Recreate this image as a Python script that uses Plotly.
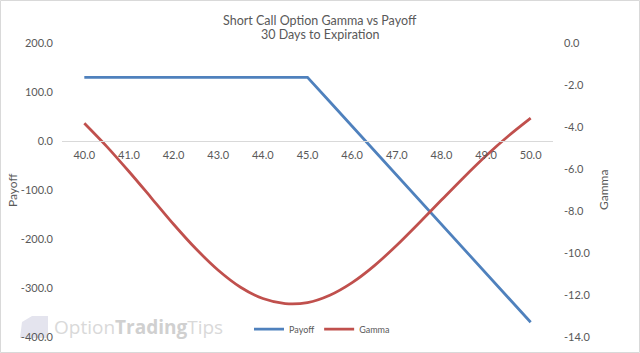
import plotly.graph_objects as go

# Data
price = [40.0, 40.5, 41.0, 41.5, 42.0, 42.5, 43.0, 43.5, 44.0, 44.5, 45.0,
         45.5, 46.0, 46.5, 47.0, 47.5, 48.0, 48.5, 49.0, 49.5, 50.0]
payoff = [130, 130, 130, 130, 130, 130, 130, 130, 130, 130, 130,
          80, 30, -20, -70, -120, -170, -220, -270, -320, -370]
gamma = [-3.82, -4.92, -6.12, -7.37, -8.63, -9.80, -10.82, -11.63, -12.17, -12.41, -12.36,
         -12.01, -11.41, -10.60, -9.63, -8.57, -7.48, -6.40, -5.37, -4.43, -3.58]
x_ticks = [40, 41, 42, 43, 44, 45, 46, 47, 48, 49, 50]
x_ticktext = ["40.0", "41.0", "42.0", "43.0", "44.0", "45.0", "46.0", "47.0", "48.0", "49.0", "50.0"]
y1_ticks = [200, 100, 0, -100, -200, -300, -400]
y2_ticks = [0, -2, -4, -6, -8, -10, -12, -14]

FONT = "Lato"
TXT = "#595959"

fig = go.Figure()
fig.add_trace(go.Scatter(x=price, y=payoff, name="Payoff", mode="lines",
                         line=dict(color="#4f81bd", width=2.75)))
fig.add_trace(go.Scatter(x=price, y=gamma, name="Gamma", mode="lines", yaxis="y2",
                         line=dict(color="#c0504d", width=2.75, shape="spline", smoothing=0.8)))

W, H = 640, 353
L, R, T, B = 62, 87, 43, 16
pw, ph = W - L - R, H - T - B

def px(x):
    return (x - L) / pw

def py(y):
    return (H - B - y) / ph

fig.update_layout(
    width=W, height=H,
    margin=dict(l=L, r=R, t=T, b=B, autoexpand=False),
    paper_bgcolor="white", plot_bgcolor="white",
    font=dict(family=FONT, size=11, color=TXT),
    showlegend=True,
    legend=dict(orientation="h", x=px(322), y=py(329), xanchor="center", yanchor="middle",
                font=dict(size=9, color=TXT), bgcolor="rgba(0,0,0,0)",
                itemwidth=30, tracegroupgap=0),
    xaxis=dict(range=[39.5, 50.5], tickvals=x_ticks, ticktext=x_ticktext,
               showgrid=False, zeroline=False, showline=True, linecolor="#d9d9d9", linewidth=1,
               anchor="free", position=2/3, ticks="", ticklabelstandoff=4,
               tickfont=dict(size=11, color=TXT)),
    yaxis=dict(range=[-400, 200], tickvals=y1_ticks, ticktext=[f"{v:.1f}" for v in y1_ticks],
               showgrid=False, zeroline=False, showline=False, ticks="",
               ticklabelstandoff=8, tickfont=dict(size=11, color=TXT)),
    yaxis2=dict(range=[-14, 0], tickvals=y2_ticks, ticktext=[f"{v:.1f}" for v in y2_ticks],
                overlaying="y", side="right", showgrid=False, zeroline=False, showline=False,
                ticks="", ticklabelstandoff=10, tickfont=dict(size=11, color=TXT)),
)

annotations = [
    dict(text="Short Call Option Gamma vs Payoff", x=px(320), y=py(20), xref="paper", yref="paper",
         showarrow=False, font=dict(size=12.5, color=TXT), xanchor="center", yanchor="middle"),
    dict(text="30 Days to Expiration", x=px(320), y=py(35), xref="paper", yref="paper",
         showarrow=False, font=dict(size=12.5, color=TXT), xanchor="center", yanchor="middle"),
    dict(text="Payoff", x=px(12), y=py(190), xref="paper", yref="paper", textangle=-90,
         showarrow=False, font=dict(size=12, color=TXT), xanchor="center", yanchor="middle"),
    dict(text="Gamma", x=px(603), y=py(190), xref="paper", yref="paper", textangle=-90,
         showarrow=False, font=dict(size=12, color=TXT), xanchor="center", yanchor="middle"),
    dict(text="<span style='color:#d9d9d9'>Option</span><b><span style='color:#d0d0d0'>Trading</span></b><span style='color:#d9d9d9'>Tips</span>",
         x=px(52), y=py(327), xref="paper", yref="paper", showarrow=False,
         font=dict(size=19, family="Open Sans"), xanchor="left", yanchor="middle"),
]
fig.update_layout(annotations=annotations)

shapes = [
    # watermark logo
    dict(type="path", xref="paper", yref="paper",
         path=f"M {px(20)} {py(338)} L {px(22)} {py(322)} L {px(32)} {py(316)} L {px(48)} {py(316)} L {px(48)} {py(338)} Z",
         fillcolor="#e4e4ee", line=dict(width=0), layer="below"),
    # outer border
    dict(type="rect", xref="paper", yref="paper", x0=px(0.5), x1=px(W - 0.5), y0=py(H - 0.5), y1=py(0.5),
         line=dict(color="#d9d9d9", width=1), fillcolor="rgba(0,0,0,0)"),
]
fig.update_layout(shapes=shapes)

fig.write_html("out.html")
